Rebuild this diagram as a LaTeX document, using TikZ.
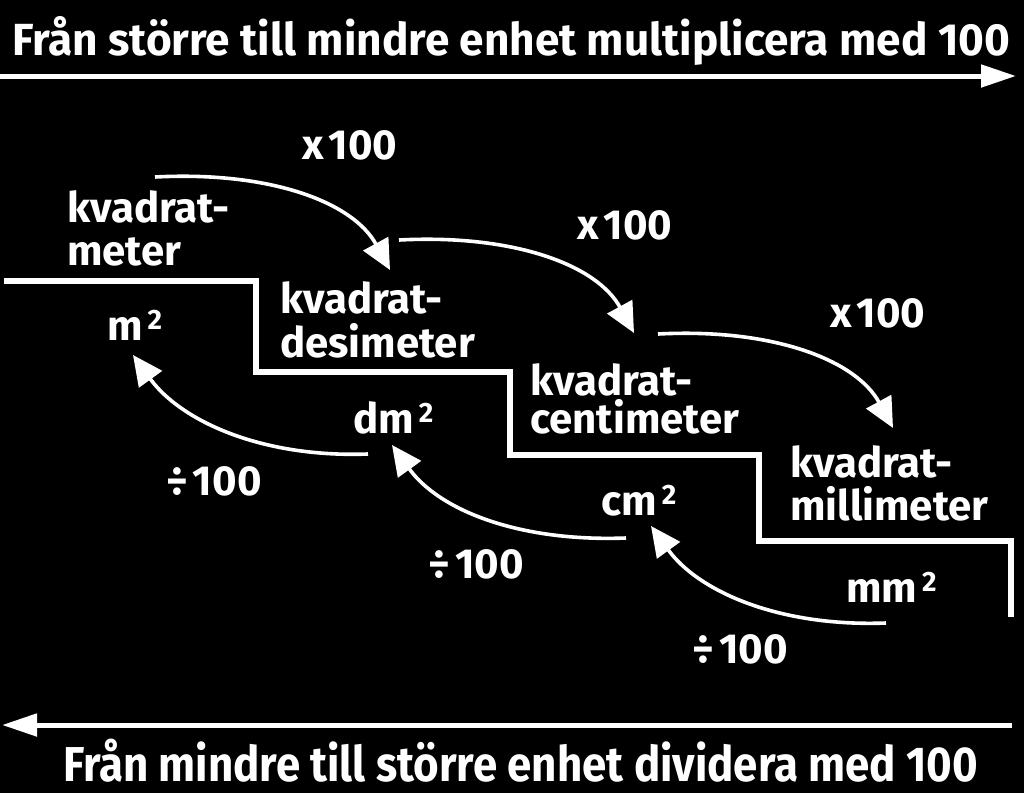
\documentclass[tikz,border=0pt]{standalone}
\usepackage{fontspec}
\setmainfont{Fira Sans}
\usetikzlibrary{arrows.meta,calc}
\newcommand\sqtwo{\hspace{5pt}\raisebox{11pt}{\fontsize{28}{28}\selectfont 2}}
\begin{document}
\begin{tikzpicture}[x=1pt,y=-1pt,
  lbl/.style={text=white, inner sep=0pt, anchor=base west, font=\bfseries\fontsize{42}{44}\selectfont},
  ttl/.style={text=white, inner sep=0pt, anchor=base west},
  flow/.style={draw=white, line width=3.6pt, -{Triangle[length=30pt,width=28pt]}},
  stair/.style={draw=white, line width=5.5pt, line join=miter},
  bigarrow/.style={draw=white, line width=5pt, -{Triangle[length=35pt,width=22pt]}}]
\fill[black] (0,0) rectangle (1024,793);
\useasboundingbox (0,0) rectangle (1024,793);

% titles
\node[ttl, font=\bfseries\fontsize{45}{45}\selectfont] (ttop) at (12,55)
  {\resizebox{998pt}{\height}{Från större till mindre enhet multiplicera med 100}};
\node[ttl, font=\bfseries\fontsize{49}{49}\selectfont] (tbot) at (63,781)
  {\resizebox{915pt}{\height}{Från mindre till större enhet dividera med 100}};

% long arrows
\coordinate (ta0) at (0,76);
\coordinate (ta1) at (1016,76);
\coordinate (ba0) at (1012,725);
\coordinate (ba1) at (2,725);
\draw[bigarrow] (ta0) -- (ta1);
\draw[bigarrow] (ba0) -- (ba1);

% staircase
\coordinate (s0) at (4,281);
\coordinate (s1) at (256,372);
\coordinate (s2) at (510,455);
\coordinate (s3) at (759,541);
\coordinate (s4) at (1011,617);
\draw[stair] (s0) -| (s1) -| (s2) -| (s3) -| (s4);

% unit names
\node[lbl] (m1) at (67,222) {kvadrat-};
\node[lbl] (m2) at (67,265) {meter};
\node[lbl] (d1) at (280,313) {kvadrat-};
\node[lbl] (d2) at (280,357) {desimeter};
\node[lbl] (c1) at (530,395) {kvadrat-};
\node[lbl] (c2) at (530,433) {centimeter};
\node[lbl] (mm1) at (790,477) {kvadrat-};
\node[lbl] (mm2) at (790,520) {millimeter};

% symbols
\node[lbl] (sm) at (107,340) {m\sqtwo};
\node[lbl] (sdm) at (353,433) {dm\sqtwo};
\node[lbl] (scm) at (601,515) {cm\sqtwo};
\node[lbl] (smm) at (846,602) {mm\sqtwo};

% operation labels
\node[lbl] (x1) at (302,159) {x\hspace{5pt}100};
\node[lbl] (x2) at (577,239) {x\hspace{5pt}100};
\node[lbl] (x3) at (830,327) {x\hspace{5pt}100};
\node[lbl] (q1) at (166,495) {÷\hspace{5pt}100};
\node[lbl] (q2) at (428,578) {÷\hspace{5pt}100};
\node[lbl] (q3) at (692,663) {÷\hspace{5pt}100};

% multiply arrows
\coordinate (xa1) at (155,177); \coordinate (xb1) at (390,270);
\coordinate (xa2) at (399,240); \coordinate (xb2) at (634,333);
\coordinate (xa3) at (658,334); \coordinate (xb3) at (893,428);
\foreach \i in {1,2,3}{
  \draw[flow] (xa\i) .. controls ($(xa\i)+(115,-6)$) and ($(xb\i)+(-37,-68)$) .. (xb\i);
}

% divide arrows
\coordinate (qa1) at (368,454); \coordinate (qb1) at (133,355);
\coordinate (qa2) at (626,538); \coordinate (qb2) at (392,445);
\coordinate (qa3) at (886,623); \coordinate (qb3) at (651,526);
\foreach \i in {1,2,3}{
  \draw[flow] (qa\i) .. controls ($(qa\i)+(-108,4)$) and ($(qb\i)+(47,65)$) .. (qb\i);
}
\end{tikzpicture}
\end{document}
